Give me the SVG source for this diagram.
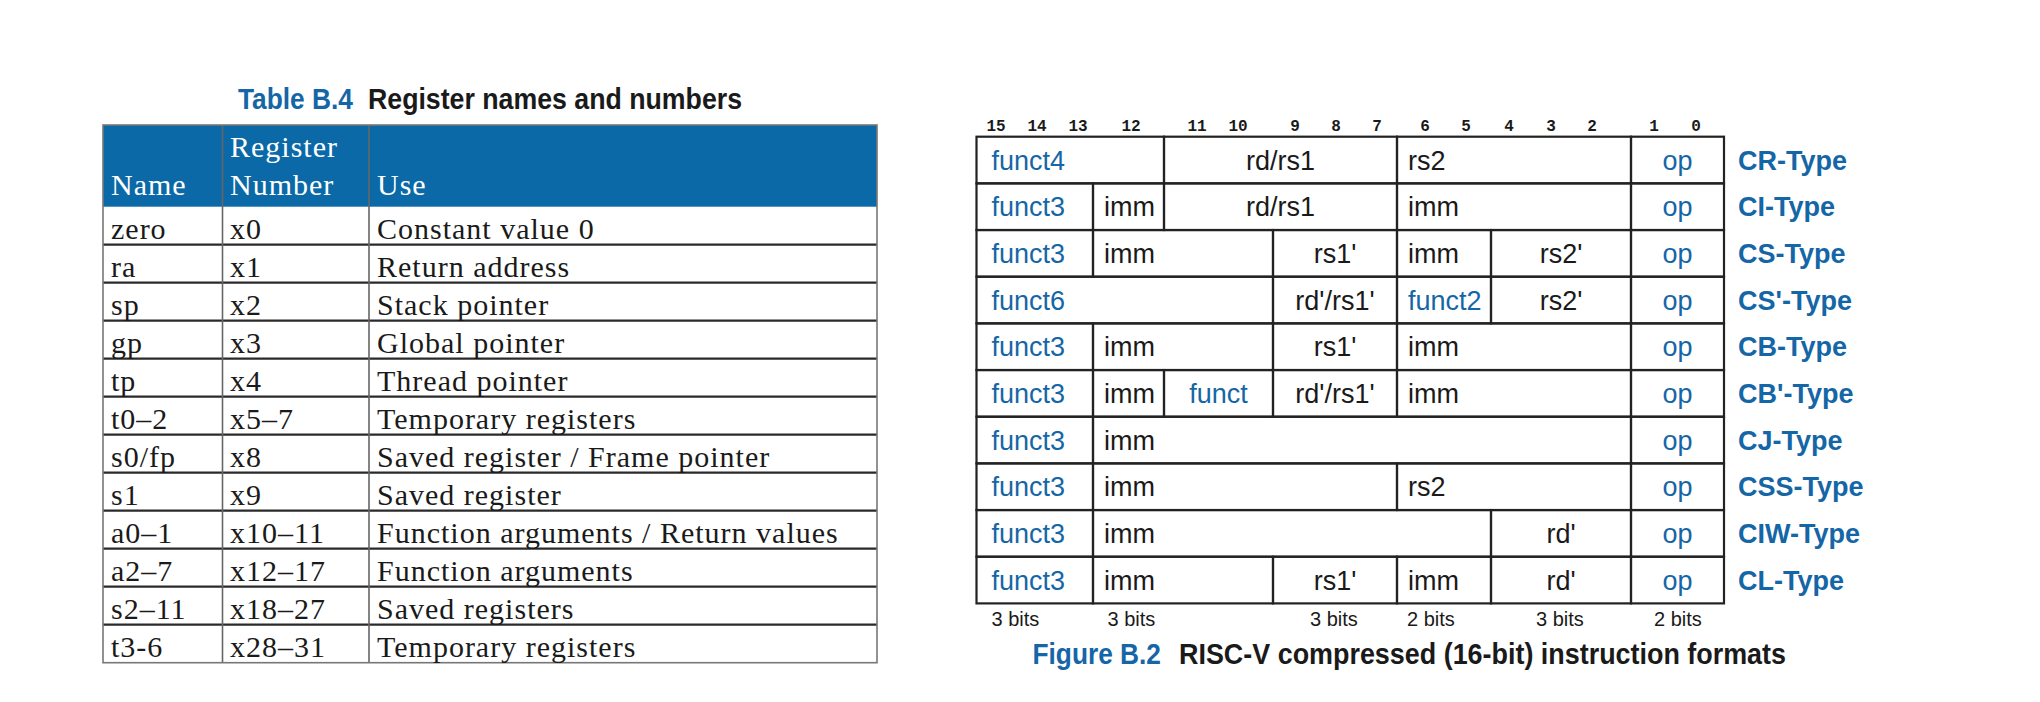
<svg xmlns="http://www.w3.org/2000/svg" width="2040" height="702" viewBox="0 0 2040 702">
<style>
.ttl{font-family:"Liberation Sans",Arial,sans-serif;font-weight:bold;font-size:29px}
.blue{fill:#1566a6}
.dark{fill:#1a1a1a}
.tc{font-family:"Liberation Serif",serif;font-size:30px;letter-spacing:1px;fill:#1a1a1a}
.th{font-family:"Liberation Serif",serif;font-size:30px;letter-spacing:1px;fill:#ffffff}
.hl{stroke:#2a2a2a;stroke-width:2.2}
.vl{stroke:#666;stroke-width:1.6}
.cell{fill:none;stroke:#222;stroke-width:2.2}
.f{font-family:"Liberation Sans",Arial,sans-serif;font-size:27px;fill:#1a1a1a}
.fb{font-family:"Liberation Sans",Arial,sans-serif;font-size:27px;fill:#1566a6}
.ty{font-family:"Liberation Sans",Arial,sans-serif;font-size:27px;font-weight:bold;fill:#1566a6}
.bn{font-family:"Liberation Mono",monospace;font-size:16px;font-weight:bold;fill:#1a1a1a}
.bits{font-family:"Liberation Sans",Arial,sans-serif;font-size:20px;fill:#1a1a1a}
</style>

<g id="table-title">
<text x="238" y="109" class="ttl blue" textLength="115" lengthAdjust="spacingAndGlyphs">Table B.4</text>
<text x="368" y="109" class="ttl dark" textLength="374" lengthAdjust="spacingAndGlyphs">Register names and numbers</text>
</g>

<g id="register-table">
<rect x="103" y="125" width="774" height="81.7" fill="#0a69a6"/>
<g id="table-header">
<text x="111" y="195" class="th">Name</text>
<text x="230" y="157" class="th">Register</text>
<text x="230" y="195" class="th">Number</text>
<text x="377" y="195" class="th">Use</text>
</g>
<g id="table-lines">
<line x1="103" y1="244.7" x2="877" y2="244.7" class="hl"/>
<line x1="103" y1="282.7" x2="877" y2="282.7" class="hl"/>
<line x1="103" y1="320.7" x2="877" y2="320.7" class="hl"/>
<line x1="103" y1="358.7" x2="877" y2="358.7" class="hl"/>
<line x1="103" y1="396.7" x2="877" y2="396.7" class="hl"/>
<line x1="103" y1="434.7" x2="877" y2="434.7" class="hl"/>
<line x1="103" y1="472.7" x2="877" y2="472.7" class="hl"/>
<line x1="103" y1="510.7" x2="877" y2="510.7" class="hl"/>
<line x1="103" y1="548.7" x2="877" y2="548.7" class="hl"/>
<line x1="103" y1="586.7" x2="877" y2="586.7" class="hl"/>
<line x1="103" y1="624.7" x2="877" y2="624.7" class="hl"/>
<line x1="222.5" y1="125" x2="222.5" y2="662.7" class="vl"/>
<line x1="369" y1="125" x2="369" y2="662.7" class="vl"/>
<rect x="103" y="125" width="774" height="537.7" fill="none" stroke="#777" stroke-width="1.6"/>
</g>
<g id="table-rows">
<text x="111" y="239" class="tc">zero</text><text x="230" y="239" class="tc">x0</text><text x="377" y="239" class="tc">Constant value 0</text>
<text x="111" y="277" class="tc">ra</text><text x="230" y="277" class="tc">x1</text><text x="377" y="277" class="tc">Return address</text>
<text x="111" y="315" class="tc">sp</text><text x="230" y="315" class="tc">x2</text><text x="377" y="315" class="tc">Stack pointer</text>
<text x="111" y="353" class="tc">gp</text><text x="230" y="353" class="tc">x3</text><text x="377" y="353" class="tc">Global pointer</text>
<text x="111" y="391" class="tc">tp</text><text x="230" y="391" class="tc">x4</text><text x="377" y="391" class="tc">Thread pointer</text>
<text x="111" y="429" class="tc">t0–2</text><text x="230" y="429" class="tc">x5–7</text><text x="377" y="429" class="tc">Temporary registers</text>
<text x="111" y="467" class="tc">s0/fp</text><text x="230" y="467" class="tc">x8</text><text x="377" y="467" class="tc">Saved register / Frame pointer</text>
<text x="111" y="505" class="tc">s1</text><text x="230" y="505" class="tc">x9</text><text x="377" y="505" class="tc">Saved register</text>
<text x="111" y="543" class="tc">a0–1</text><text x="230" y="543" class="tc">x10–11</text><text x="377" y="543" class="tc">Function arguments / Return values</text>
<text x="111" y="581" class="tc">a2–7</text><text x="230" y="581" class="tc">x12–17</text><text x="377" y="581" class="tc">Function arguments</text>
<text x="111" y="619" class="tc">s2–11</text><text x="230" y="619" class="tc">x18–27</text><text x="377" y="619" class="tc">Saved registers</text>
<text x="111" y="657" class="tc">t3-6</text><text x="230" y="657" class="tc">x28–31</text><text x="377" y="657" class="tc">Temporary registers</text>
</g>
</g>

<g id="bit-numbers" text-anchor="middle">
<text x="996" y="131" class="bn">15</text>
<text x="1037" y="131" class="bn">14</text>
<text x="1078" y="131" class="bn">13</text>
<text x="1131" y="131" class="bn">12</text>
<text x="1197" y="131" class="bn">11</text>
<text x="1238" y="131" class="bn">10</text>
<text x="1295" y="131" class="bn">9</text>
<text x="1336" y="131" class="bn">8</text>
<text x="1377" y="131" class="bn">7</text>
<text x="1425" y="131" class="bn">6</text>
<text x="1466" y="131" class="bn">5</text>
<text x="1509" y="131" class="bn">4</text>
<text x="1551" y="131" class="bn">3</text>
<text x="1592" y="131" class="bn">2</text>
<text x="1654" y="131" class="bn">1</text>
<text x="1696" y="131" class="bn">0</text>
</g>

<g id="row-CR">
<rect x="976.5" y="136.7" width="187.5" height="46.67" class="cell"/>
<rect x="1164" y="136.7" width="233" height="46.67" class="cell"/>
<rect x="1397" y="136.7" width="234" height="46.67" class="cell"/>
<rect x="1631" y="136.7" width="93" height="46.67" class="cell"/>
<text x="991.5" y="169.7" class="fb">funct4</text>
<text x="1280.5" y="169.7" class="f" text-anchor="middle">rd/rs1</text>
<text x="1408" y="169.7" class="f">rs2</text>
<text x="1677.5" y="169.7" class="fb" text-anchor="middle">op</text>
<text x="1738" y="169.7" class="ty">CR-Type</text>
</g>

<g id="row-CI">
<rect x="976.5" y="183.37" width="116.5" height="46.67" class="cell"/>
<rect x="1093" y="183.37" width="71" height="46.67" class="cell"/>
<rect x="1164" y="183.37" width="233" height="46.67" class="cell"/>
<rect x="1397" y="183.37" width="234" height="46.67" class="cell"/>
<rect x="1631" y="183.37" width="93" height="46.67" class="cell"/>
<text x="991.5" y="216.4" class="fb">funct3</text>
<text x="1104" y="216.4" class="f">imm</text>
<text x="1280.5" y="216.4" class="f" text-anchor="middle">rd/rs1</text>
<text x="1408" y="216.4" class="f">imm</text>
<text x="1677.5" y="216.4" class="fb" text-anchor="middle">op</text>
<text x="1738" y="216.4" class="ty">CI-Type</text>
</g>

<g id="row-CS">
<rect x="976.5" y="230.04" width="116.5" height="46.67" class="cell"/>
<rect x="1093" y="230.04" width="180" height="46.67" class="cell"/>
<rect x="1273" y="230.04" width="124" height="46.67" class="cell"/>
<rect x="1397" y="230.04" width="94" height="46.67" class="cell"/>
<rect x="1491" y="230.04" width="140" height="46.67" class="cell"/>
<rect x="1631" y="230.04" width="93" height="46.67" class="cell"/>
<text x="991.5" y="263" class="fb">funct3</text>
<text x="1104" y="263" class="f">imm</text>
<text x="1335" y="263" class="f" text-anchor="middle">rs1'</text>
<text x="1408" y="263" class="f">imm</text>
<text x="1561" y="263" class="f" text-anchor="middle">rs2'</text>
<text x="1677.5" y="263" class="fb" text-anchor="middle">op</text>
<text x="1738" y="263" class="ty">CS-Type</text>
</g>

<g id="row-CS-prime">
<rect x="976.5" y="276.71" width="296.5" height="46.67" class="cell"/>
<rect x="1273" y="276.71" width="124" height="46.67" class="cell"/>
<rect x="1397" y="276.71" width="94" height="46.67" class="cell"/>
<rect x="1491" y="276.71" width="140" height="46.67" class="cell"/>
<rect x="1631" y="276.71" width="93" height="46.67" class="cell"/>
<text x="991.5" y="309.7" class="fb">funct6</text>
<text x="1335" y="309.7" class="f" text-anchor="middle">rd'/rs1'</text>
<text x="1408" y="309.7" class="fb">funct2</text>
<text x="1561" y="309.7" class="f" text-anchor="middle">rs2'</text>
<text x="1677.5" y="309.7" class="fb" text-anchor="middle">op</text>
<text x="1738" y="309.7" class="ty">CS'-Type</text>
</g>

<g id="row-CB">
<rect x="976.5" y="323.38" width="116.5" height="46.67" class="cell"/>
<rect x="1093" y="323.38" width="180" height="46.67" class="cell"/>
<rect x="1273" y="323.38" width="124" height="46.67" class="cell"/>
<rect x="1397" y="323.38" width="234" height="46.67" class="cell"/>
<rect x="1631" y="323.38" width="93" height="46.67" class="cell"/>
<text x="991.5" y="356.4" class="fb">funct3</text>
<text x="1104" y="356.4" class="f">imm</text>
<text x="1335" y="356.4" class="f" text-anchor="middle">rs1'</text>
<text x="1408" y="356.4" class="f">imm</text>
<text x="1677.5" y="356.4" class="fb" text-anchor="middle">op</text>
<text x="1738" y="356.4" class="ty">CB-Type</text>
</g>

<g id="row-CB-prime">
<rect x="976.5" y="370.05" width="116.5" height="46.67" class="cell"/>
<rect x="1093" y="370.05" width="71" height="46.67" class="cell"/>
<rect x="1164" y="370.05" width="109" height="46.67" class="cell"/>
<rect x="1273" y="370.05" width="124" height="46.67" class="cell"/>
<rect x="1397" y="370.05" width="234" height="46.67" class="cell"/>
<rect x="1631" y="370.05" width="93" height="46.67" class="cell"/>
<text x="991.5" y="403" class="fb">funct3</text>
<text x="1104" y="403" class="f">imm</text>
<text x="1218.5" y="403" class="fb" text-anchor="middle">funct</text>
<text x="1335" y="403" class="f" text-anchor="middle">rd'/rs1'</text>
<text x="1408" y="403" class="f">imm</text>
<text x="1677.5" y="403" class="fb" text-anchor="middle">op</text>
<text x="1738" y="403" class="ty">CB'-Type</text>
</g>

<g id="row-CJ">
<rect x="976.5" y="416.72" width="116.5" height="46.67" class="cell"/>
<rect x="1093" y="416.72" width="538" height="46.67" class="cell"/>
<rect x="1631" y="416.72" width="93" height="46.67" class="cell"/>
<text x="991.5" y="449.7" class="fb">funct3</text>
<text x="1104" y="449.7" class="f">imm</text>
<text x="1677.5" y="449.7" class="fb" text-anchor="middle">op</text>
<text x="1738" y="449.7" class="ty">CJ-Type</text>
</g>

<g id="row-CSS">
<rect x="976.5" y="463.39" width="116.5" height="46.67" class="cell"/>
<rect x="1093" y="463.39" width="304" height="46.67" class="cell"/>
<rect x="1397" y="463.39" width="234" height="46.67" class="cell"/>
<rect x="1631" y="463.39" width="93" height="46.67" class="cell"/>
<text x="991.5" y="496.4" class="fb">funct3</text>
<text x="1104" y="496.4" class="f">imm</text>
<text x="1408" y="496.4" class="f">rs2</text>
<text x="1677.5" y="496.4" class="fb" text-anchor="middle">op</text>
<text x="1738" y="496.4" class="ty">CSS-Type</text>
</g>

<g id="row-CIW">
<rect x="976.5" y="510.06" width="116.5" height="46.67" class="cell"/>
<rect x="1093" y="510.06" width="398" height="46.67" class="cell"/>
<rect x="1491" y="510.06" width="140" height="46.67" class="cell"/>
<rect x="1631" y="510.06" width="93" height="46.67" class="cell"/>
<text x="991.5" y="543" class="fb">funct3</text>
<text x="1104" y="543" class="f">imm</text>
<text x="1561" y="543" class="f" text-anchor="middle">rd'</text>
<text x="1677.5" y="543" class="fb" text-anchor="middle">op</text>
<text x="1738" y="543" class="ty">CIW-Type</text>
</g>

<g id="row-CL">
<rect x="976.5" y="556.73" width="116.5" height="46.67" class="cell"/>
<rect x="1093" y="556.73" width="180" height="46.67" class="cell"/>
<rect x="1273" y="556.73" width="124" height="46.67" class="cell"/>
<rect x="1397" y="556.73" width="94" height="46.67" class="cell"/>
<rect x="1491" y="556.73" width="140" height="46.67" class="cell"/>
<rect x="1631" y="556.73" width="93" height="46.67" class="cell"/>
<text x="991.5" y="589.7" class="fb">funct3</text>
<text x="1104" y="589.7" class="f">imm</text>
<text x="1335" y="589.7" class="f" text-anchor="middle">rs1'</text>
<text x="1408" y="589.7" class="f">imm</text>
<text x="1561" y="589.7" class="f" text-anchor="middle">rd'</text>
<text x="1677.5" y="589.7" class="fb" text-anchor="middle">op</text>
<text x="1738" y="589.7" class="ty">CL-Type</text>
</g>

<g id="bit-widths">
<text x="991.5" y="626" class="bits">3 bits</text>
<text x="1107.5" y="626" class="bits">3 bits</text>
<text x="1310" y="626" class="bits">3 bits</text>
<text x="1407" y="626" class="bits">2 bits</text>
<text x="1536" y="626" class="bits">3 bits</text>
<text x="1654" y="626" class="bits">2 bits</text>
</g>

<g id="figure-caption">
<text x="1032.5" y="664" class="ttl blue" textLength="128.5" lengthAdjust="spacingAndGlyphs">Figure B.2</text>
<text x="1179" y="664" class="ttl dark" textLength="607" lengthAdjust="spacingAndGlyphs">RISC-V compressed (16-bit) instruction formats</text>
</g>
</svg>
